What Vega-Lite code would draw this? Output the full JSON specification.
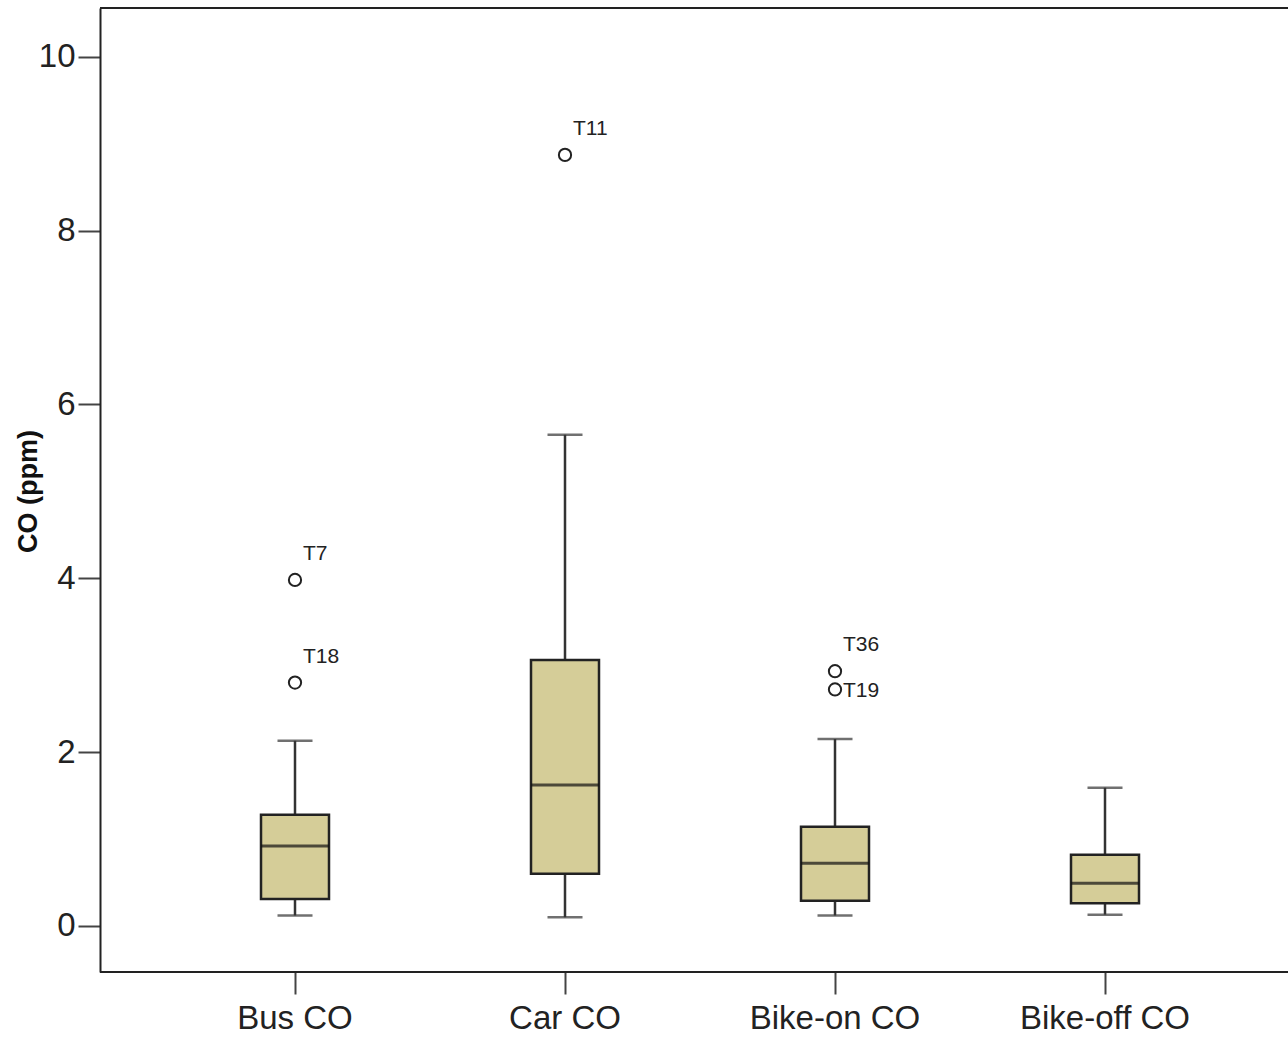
{
  "$schema": "https://vega.github.io/schema/vega-lite/v6.json",
  "width": 1188,
  "height": 964,
  "autosize": {"type": "none"},
  "padding": {"left": 100, "top": 8, "right": 0, "bottom": 65},
  "background": "white",
  "config": {
    "view": {"stroke": null},
    "font": "Liberation Sans"
  },
  "datasets": {
    "boxes": [
      {"group": "Bus CO", "low": 0.12, "q1": 0.31, "median": 0.92, "q3": 1.28, "high": 2.13},
      {"group": "Car CO", "low": 0.10, "q1": 0.60, "median": 1.62, "q3": 3.06, "high": 5.65},
      {"group": "Bike-on CO", "low": 0.12, "q1": 0.29, "median": 0.72, "q3": 1.14, "high": 2.15},
      {"group": "Bike-off CO", "low": 0.13, "q1": 0.26, "median": 0.49, "q3": 0.82, "high": 1.59}
    ],
    "outliers": [
      {"group": "Bus CO", "value": 3.98, "label": "T7"},
      {"group": "Bus CO", "value": 2.80, "label": "T18"},
      {"group": "Car CO", "value": 8.87, "label": "T11"},
      {"group": "Bike-on CO", "value": 2.93, "label": "T36"},
      {"group": "Bike-on CO", "value": 2.72, "label": "T19"}
    ],
    "frame": [{"top": 10.56, "bottom": -0.53}]
  },
  "layer": [
    {
      "data": {"name": "boxes"},
      "mark": {"type": "rule", "stroke": "#333", "strokeWidth": 2.5},
      "encoding": {
        "x": {
          "field": "group",
          "type": "nominal",
          "sort": ["Bus CO", "Car CO", "Bike-on CO", "Bike-off CO"],
          "scale": {"paddingInner": 0, "paddingOuter": 0.2, "range": [6, 1194]},
          "axis": {
            "title": null,
            "labelAngle": 0,
            "labelFontSize": 33,
            "labelColor": "#222",
            "labelPadding": 8,
            "tickSize": 22,
            "tickWidth": 2,
            "tickColor": "#444",
            "domain": false
          }
        },
        "y": {
          "field": "low",
          "type": "quantitative",
          "scale": {"domain": [-0.53, 10.56], "nice": false, "zero": false},
          "axis": {
            "title": "CO (ppm)",
            "titleFontSize": 27,
            "titleFontWeight": "bold",
            "titleColor": "#111",
            "titleAngle": 270,
            "titleX": -72,
            "titleY": 483,
            "titleAlign": "center",
            "titleBaseline": "middle",
            "values": [0, 2, 4, 6, 8, 10],
            "format": "d",
            "grid": false,
            "labelFontSize": 33,
            "labelColor": "#222",
            "labelPadding": 3,
            "tickSize": 22,
            "tickWidth": 2,
            "tickColor": "#444",
            "domainColor": "#222",
            "domainWidth": 2
          }
        },
        "y2": {"field": "high"}
      }
    },
    {
      "data": {"name": "frame"},
      "mark": {"type": "rule", "stroke": "#222", "strokeWidth": 2},
      "encoding": {"y": {"field": "top", "type": "quantitative"}}
    },
    {
      "data": {"name": "frame"},
      "mark": {"type": "rule", "stroke": "#222", "strokeWidth": 2},
      "encoding": {"y": {"field": "bottom", "type": "quantitative"}}
    },
    {
      "data": {"name": "boxes"},
      "mark": {"type": "tick", "size": 35, "thickness": 2.5, "color": "#333"},
      "encoding": {
        "x": {"field": "group", "type": "nominal", "sort": ["Bus CO", "Car CO", "Bike-on CO", "Bike-off CO"]},
        "y": {"field": "low", "type": "quantitative"}
      }
    },
    {
      "data": {"name": "boxes"},
      "mark": {"type": "tick", "size": 35, "thickness": 2.5, "color": "#333"},
      "encoding": {
        "x": {"field": "group", "type": "nominal", "sort": ["Bus CO", "Car CO", "Bike-on CO", "Bike-off CO"]},
        "y": {"field": "high", "type": "quantitative"}
      }
    },
    {
      "data": {"name": "boxes"},
      "mark": {"type": "bar", "size": 68, "fill": "#D5CD98", "stroke": "#222", "strokeWidth": 2.5},
      "encoding": {
        "x": {"field": "group", "type": "nominal", "sort": ["Bus CO", "Car CO", "Bike-on CO", "Bike-off CO"]},
        "y": {"field": "q1", "type": "quantitative"},
        "y2": {"field": "q3"}
      }
    },
    {
      "data": {"name": "boxes"},
      "mark": {"type": "tick", "size": 68, "thickness": 3, "color": "#111"},
      "encoding": {
        "x": {"field": "group", "type": "nominal", "sort": ["Bus CO", "Car CO", "Bike-on CO", "Bike-off CO"]},
        "y": {"field": "median", "type": "quantitative"}
      }
    },
    {
      "data": {"name": "outliers"},
      "mark": {"type": "point", "shape": "circle", "size": 150, "filled": false, "stroke": "#222", "strokeWidth": 2, "opacity": 1},
      "encoding": {
        "x": {"field": "group", "type": "nominal", "sort": ["Bus CO", "Car CO", "Bike-on CO", "Bike-off CO"]},
        "y": {"field": "value", "type": "quantitative"}
      }
    },
    {
      "data": {"name": "outliers"},
      "transform": [{"filter": "datum.label != 'T19'"}],
      "mark": {"type": "text", "align": "left", "baseline": "middle", "dx": 8, "dy": -26, "fontSize": 21, "color": "#222"},
      "encoding": {
        "x": {"field": "group", "type": "nominal", "sort": ["Bus CO", "Car CO", "Bike-on CO", "Bike-off CO"]},
        "y": {"field": "value", "type": "quantitative"},
        "text": {"field": "label"}
      }
    },
    {
      "data": {"name": "outliers"},
      "transform": [{"filter": "datum.label == 'T19'"}],
      "mark": {"type": "text", "align": "left", "baseline": "middle", "dx": 8, "dy": 2, "fontSize": 21, "color": "#222"},
      "encoding": {
        "x": {"field": "group", "type": "nominal", "sort": ["Bus CO", "Car CO", "Bike-on CO", "Bike-off CO"]},
        "y": {"field": "value", "type": "quantitative"},
        "text": {"field": "label"}
      }
    }
  ]
}
